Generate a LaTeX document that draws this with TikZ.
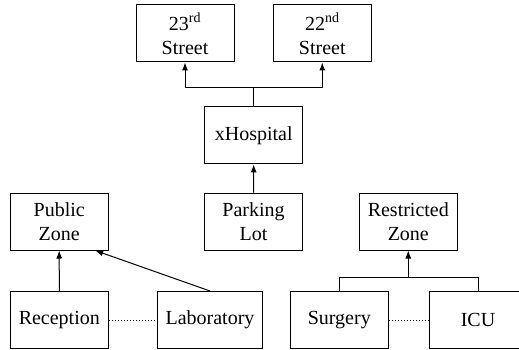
\documentclass[tikz,border=0pt]{standalone}
\usepackage{fontspec}
\setmainfont{Liberation Serif}
\usetikzlibrary{arrows.meta}
\begin{document}
\begin{tikzpicture}[x=1pt, y=-1pt, line width=1pt,
  box/.style={draw, minimum width=98pt, minimum height=57pt, inner sep=0pt, align=center,
    font=\fontsize{20}{24}\selectfont},
  arr/.style={-{Latex[length=8pt,width=6pt]}}]
\useasboundingbox (0,0) rectangle (519,350);
% streets and hospital
\node[box] (st23) at (185,33.5) {23\textsuperscript{rd}\\Street};
\node[box] (st22) at (322.3,33.5) {22\textsuperscript{nd}\\Street};
\node[box] (hosp) at (253.7,135.3) {xHospital};
% zones
\foreach \name/\x/\txt in {pub/59.2/{Public\\Zone}, park/253.6/{Parking\\Lot}, restr/408.3/{Restricted\\Zone}} {
  \node[box] (\name) at (\x,221.5) {\txt};
}
% rooms
\node[box] (recep) at (59.3,320) {Reception};
\node[box, minimum width=104.6pt] (lab) at (210,320) {Laboratory};
\node[box] (surg) at (339.3,320) {Surgery};
\node[box] (icu) at (478,320) {ICU};
% connectors
\coordinate (hj) at (253.7,88);
\coordinate (rj) at (408.3,277.3);
\draw (hosp.north) -- (hj);
\draw[arr] (hj) -| (st23.south);
\draw[arr] (hj) -| (st22.south);
\draw[arr] (park) -- (hosp);
\draw[arr] (recep) -- (pub);
\draw[arr] (lab.north) -- ([xshift=36pt]pub.south);
\draw (surg.north) |- (rj) -| (icu.north);
\draw[arr] (rj) -- (restr);
\draw[dotted] (recep) -- (lab);
\draw[dotted] (surg) -- (icu);
\end{tikzpicture}
\end{document}
